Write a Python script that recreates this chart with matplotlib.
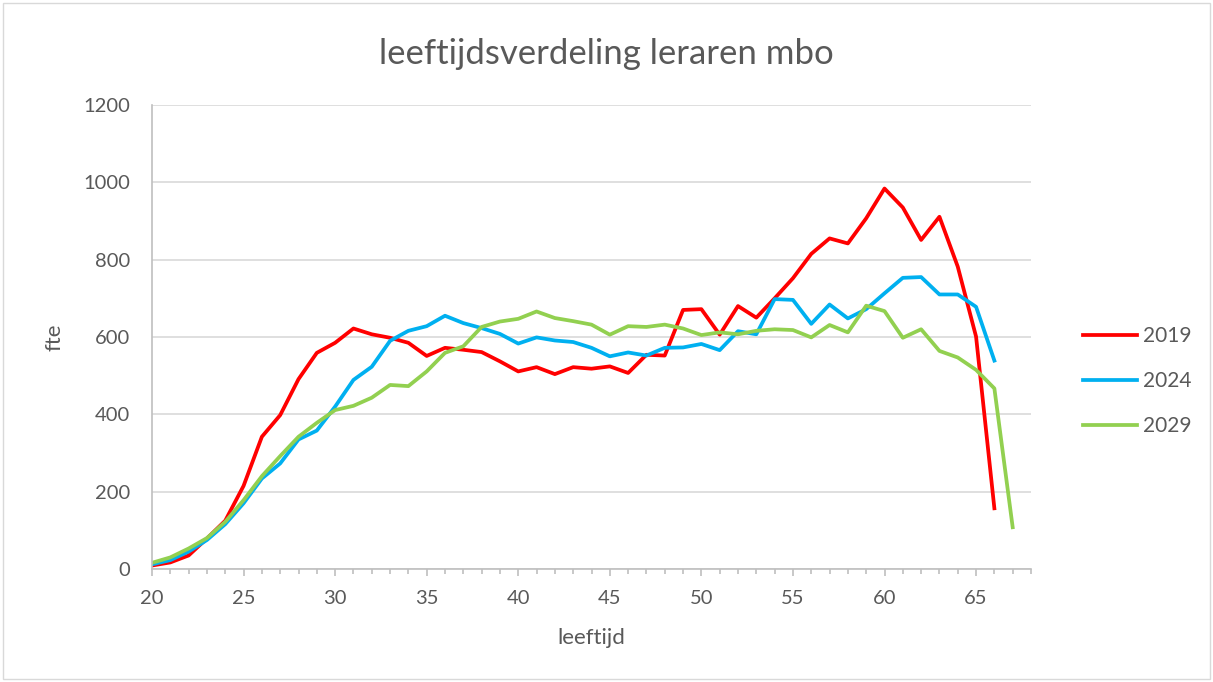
import matplotlib.pyplot as plt
from matplotlib.patches import Rectangle

# fte per age, three reference years
ages_2019 = list(range(20, 67))
fte_2019 = [9, 17, 35, 79, 125, 215, 342, 398, 491, 559, 585, 622, 607, 598, 585, 551,
            572, 567, 561, 537, 511, 522, 504, 522, 518, 524, 507, 554, 552, 670, 672,
            606, 680, 650, 700, 752, 815, 855, 842, 907, 984, 935, 851, 911, 782, 601, 157]

ages_2024 = list(range(20, 67))
fte_2024 = [12, 23, 45, 75, 116, 170, 234, 273, 335, 358, 420, 489, 523, 590, 616, 628,
            655, 636, 623, 608, 583, 599, 591, 587, 572, 550, 560, 552, 572, 573, 582,
            566, 615, 607, 698, 696, 634, 684, 648, 672, 713, 753, 755, 710, 710, 678, 539]

ages_2029 = list(range(20, 68))
fte_2029 = [16, 30, 53, 80, 122, 178, 240, 292, 342, 378, 411, 422, 443, 476, 473, 511,
            559, 576, 626, 640, 647, 666, 649, 641, 632, 606, 628, 626, 632, 622, 605,
            612, 607, 616, 620, 618, 599, 631, 612, 681, 667, 598, 620, 564, 547, 515, 467, 108]

series = [
    ('2019', ages_2019, fte_2019, '#FF0000'),
    ('2024', ages_2024, fte_2024, '#00B0F0'),
    ('2029', ages_2029, fte_2029, '#92D050'),
]

text_color = '#595959'
axis_color = '#BFBFBF'
plt.rcParams['font.family'] = ['Lato', 'DejaVu Sans']

fig = plt.figure(figsize=(12.13, 6.82), dpi=100)
ax = fig.add_axes([152 / 1213, 1 - 569 / 682, (1031 - 152) / 1213, (569 - 105) / 682])

for name, x, y, color in series:
    ax.plot(x, y, color=color, linewidth=2.7, label=name, solid_joinstyle='round')

ax.set_xlim(20, 68)
ax.set_ylim(0, 1200)
ax.set_xticks(range(20, 66, 5))
ax.set_xticks(range(20, 69), minor=True)
ax.set_yticks(range(0, 1201, 200))
ax.grid(axis='y', color='#D9D9D9', linewidth=1.2)
ax.set_axisbelow(True)

for side in ['top', 'right']:
    ax.spines[side].set_visible(False)
for side in ['bottom', 'left']:
    ax.spines[side].set_color(axis_color)
    ax.spines[side].set_linewidth(1.2)
ax.tick_params(axis='y', length=0, labelsize=14.5, colors=text_color, pad=16)
ax.tick_params(axis='x', which='major', length=5, color=axis_color, width=1.2,
               labelsize=14.5, labelcolor=text_color, pad=10)
ax.tick_params(axis='x', which='minor', length=3.6, color=axis_color, width=1.2)

ax.set_xlabel('leeftijd', fontsize=16, color=text_color, labelpad=15)
ax.set_ylabel('fte', fontsize=16, color=text_color, labelpad=13)
fig.text(0.5, 1 - 54 / 682, 'leeftijdsverdeling leraren mbo', ha='center', va='center',
         fontsize=25, color=text_color)

leg = fig.legend(loc='center left', bbox_to_anchor=(1083 / 1213, 1 - 381 / 682),
                 frameon=False, fontsize=15, handlelength=2.6, labelspacing=1.2,
                 handletextpad=0.3, borderpad=0, borderaxespad=0)
for t in leg.get_texts():
    t.set_color(text_color)

# light outer border of the chart area
fig.patches.append(Rectangle((3 / 1213, 3 / 682), 1 - 6 / 1213, 1 - 6 / 682,
                             transform=fig.transFigure, fill=False,
                             edgecolor='#D9D9D9', linewidth=1))

fig.savefig('out.png', dpi=100)
